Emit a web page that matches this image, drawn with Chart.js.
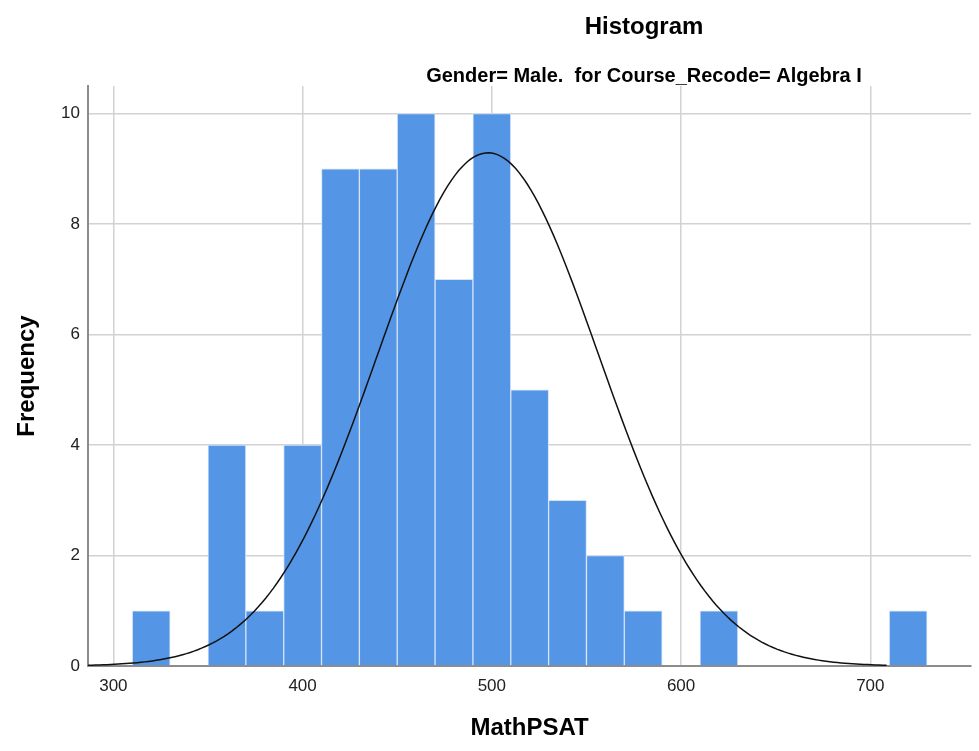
<!DOCTYPE html>
<html>
<head>
<meta charset="utf-8">
<script src="https://cdn.jsdelivr.net/npm/chart.js@4.4.0/dist/chart.umd.min.js"></script>
<style>
  body { margin: 0; background: #fff; }
  #wrap { width: 979px; height: 751px; }
</style>
</head>
<body>
<div id="wrap"><canvas id="histCanvas" width="979" height="751"></canvas></div>
<script>
// bins of width 20, left edges, with their counts
const binStarts = [310, 350, 370, 390, 410, 430, 450, 470, 490, 510, 530, 550, 570, 610, 710];
const frequencies = [1, 4, 1, 4, 9, 9, 10, 7, 10, 5, 3, 2, 1, 1, 1];
const binWidth = 20;

// fitted normal curve
const curveMean = 498;
const curveSd = 58.4;
const curveStart = 286.6;
const curveEnd = 710;

const xTicks = [300, 400, 500, 600, 700];
const yTicks = [0, 2, 4, 6, 8, 10];

const titleText = 'Histogram';
const subtitleText = 'Gender= Male.  for Course_Recode= Algebra I';

const total = frequencies.reduce((a, b) => a + b, 0);
const barData = binStarts.map((s, i) => ({ x: s + binWidth / 2, y: frequencies[i] }));

function normalCurve() {
    const pts = [];
    const scale = total * binWidth / (curveSd * Math.sqrt(2 * Math.PI));
    for (let x = curveStart; x <= curveEnd; x += 2) {
        const z = (x - curveMean) / curveSd;
        pts.push({ x: x, y: scale * Math.exp(-0.5 * z * z) });
    }
    return pts;
}

// headings sit right of centre, over the plot
const headings = {
    id: 'headings',
    afterDraw(chart) {
        const ctx = chart.ctx;
        ctx.save();
        ctx.fillStyle = '#000';
        ctx.textAlign = 'center';
        ctx.textBaseline = 'alphabetic';
        ctx.font = 'bold 24px "Liberation Sans", Arial, sans-serif';
        ctx.fillText(titleText, 644, 34);
        ctx.font = 'bold 20px "Liberation Sans", Arial, sans-serif';
        ctx.fillText(subtitleText, 644, 82);
        ctx.restore();
    }
};

const tickFont = { family: '"Liberation Sans", Arial, sans-serif', size: 17 };
const axisTitleFont = { family: '"Liberation Sans", Arial, sans-serif', size: 24, weight: 'bold' };

new Chart(document.getElementById('histCanvas'), {
    type: 'bar',
    data: {
        datasets: [
            {
                type: 'line',
                data: normalCurve(),
                borderColor: '#111',
                borderWidth: 1.5,
                pointRadius: 0,
                tension: 0,
                order: 0
            },
            {
                data: barData,
                backgroundColor: '#5595e5',
                borderColor: '#d3e3f8',
                borderWidth: 1,
                barPercentage: 1,
                categoryPercentage: 1,
                order: 1
            }
        ]
    },
    options: {
        responsive: false,
        animation: false,
        layout: { padding: { top: 86, right: 8, left: 0, bottom: 0 } },
        plugins: { legend: { display: false }, tooltip: { enabled: false } },
        scales: {
            x: {
                type: 'linear',
                offset: false,
                min: curveStart,
                max: 753.2,
                afterBuildTicks: s => { s.ticks = xTicks.map(v => ({ value: v })); },
                afterFit: s => { s.height = 85; },
                grid: { color: '#d2d2d2', lineWidth: 1.5, drawTicks: false, offset: false },
                border: { display: true, color: '#8c8c8c', width: 2 },
                ticks: { color: '#222', font: tickFont, padding: 10, maxRotation: 0 },
                title: { display: true, text: 'MathPSAT', color: '#000', font: axisTitleFont, padding: { bottom: 8 } }
            },
            y: {
                min: 0,
                max: 10.5,
                afterBuildTicks: s => { s.ticks = yTicks.map(v => ({ value: v })); },
                afterFit: s => { s.width = 88; },
                grid: { color: '#d2d2d2', lineWidth: 1.5, drawTicks: false },
                border: { display: true, color: '#8c8c8c', width: 2 },
                ticks: { color: '#222', font: tickFont, padding: 8 },
                title: { display: true, text: 'Frequency', color: '#000', font: axisTitleFont, padding: { top: 13 } }
            }
        }
    },
    plugins: [headings]
});
</script>
</body>
</html>
